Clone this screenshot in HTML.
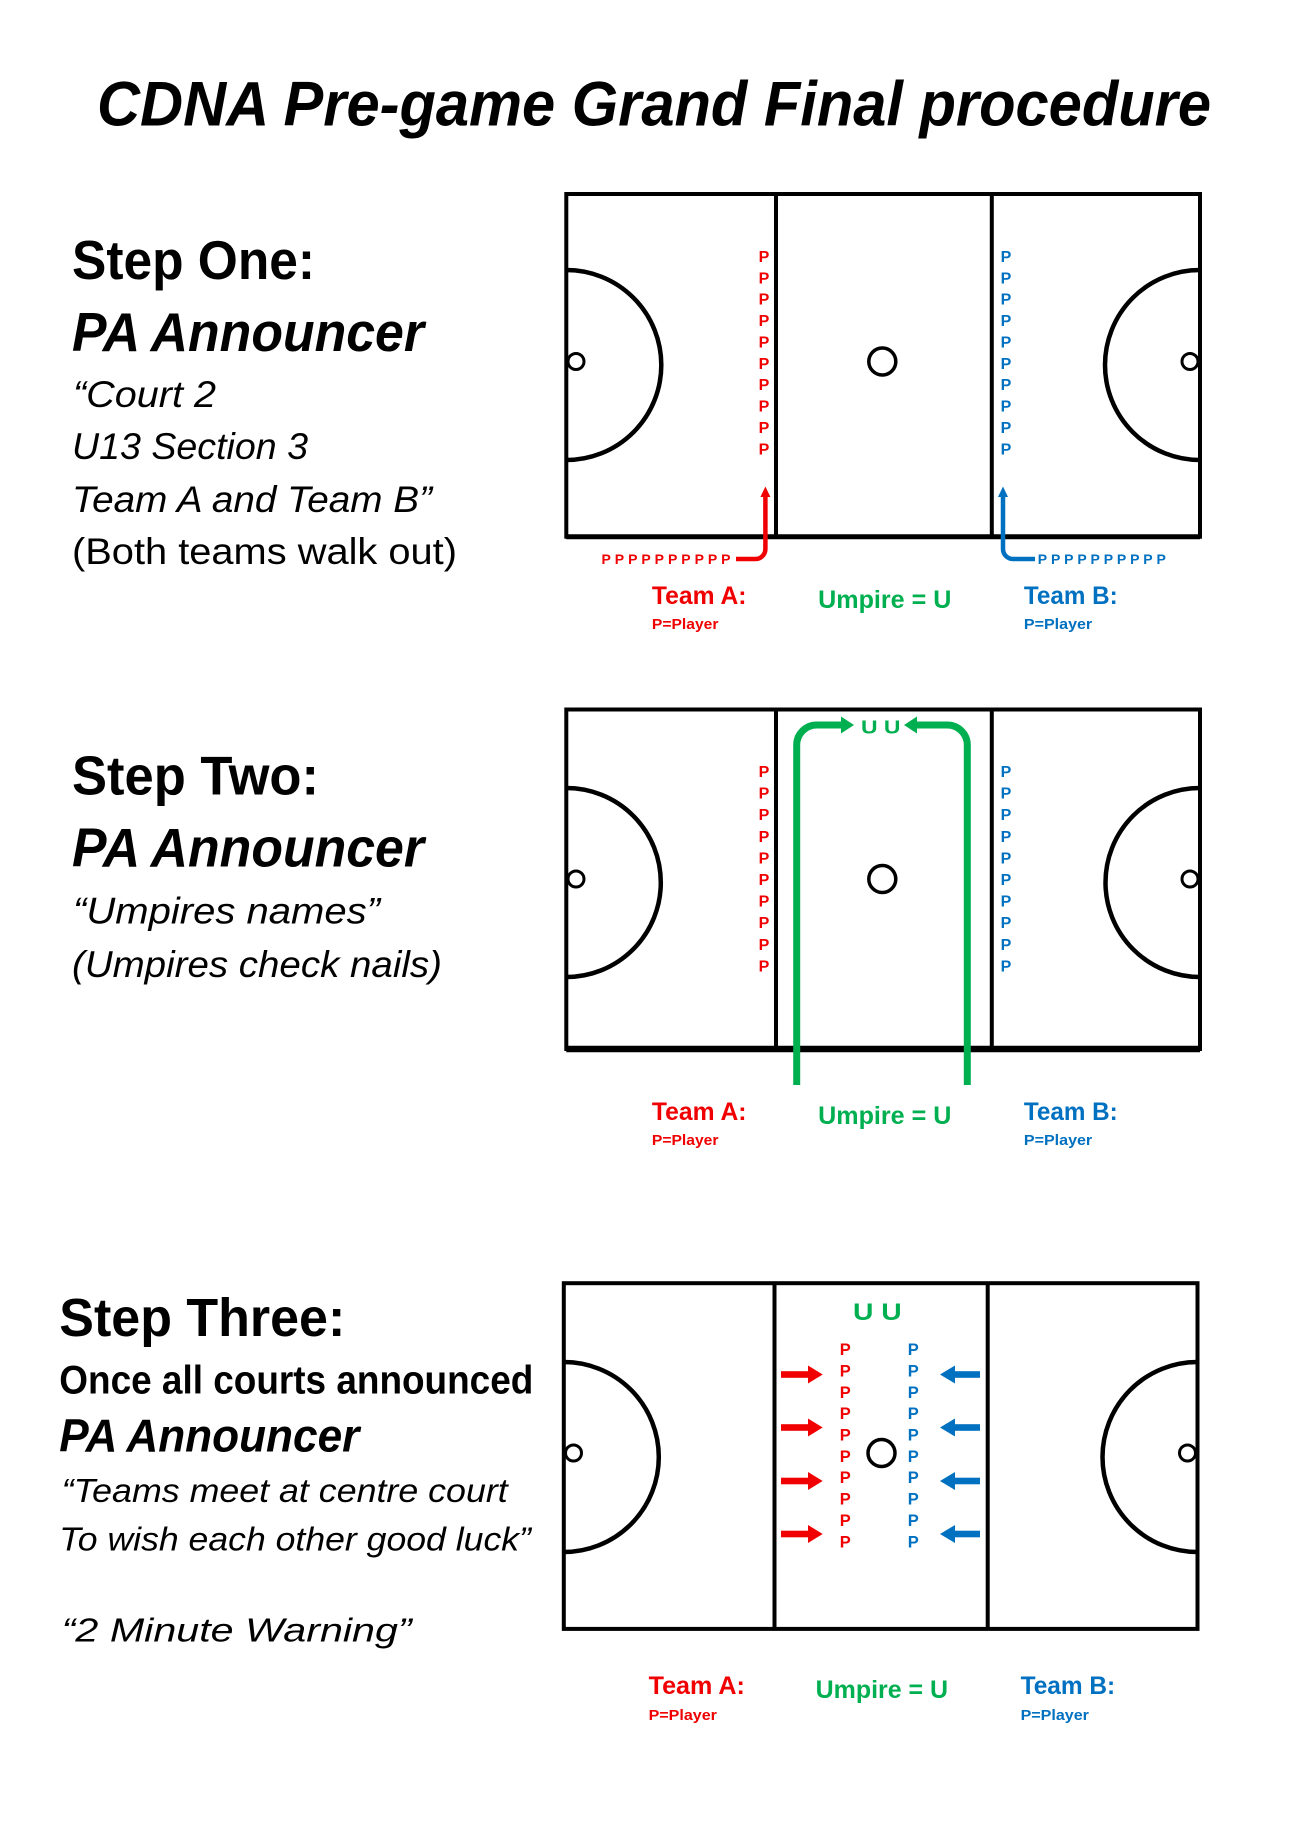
<!DOCTYPE html>
<html>
<head>
<meta charset="utf-8">
<style>
html,body{margin:0;padding:0;background:#fff;}
svg{display:block;}
text{font-family:"Liberation Sans",sans-serif;}
</style>
</head>
<body>
<svg width="1291" height="1825" viewBox="0 0 1291 1825" xmlns="http://www.w3.org/2000/svg">
<rect x="0" y="0" width="1291" height="1825" fill="#fff"/>

<!-- Title -->
<text x="97" y="125.5" font-size="63" font-weight="bold" font-style="italic" textLength="1114" lengthAdjust="spacingAndGlyphs" fill="#000">CDNA Pre-game Grand Final procedure</text>

<!-- Step One text -->
<text x="72" y="279" font-size="55" font-weight="bold" textLength="243" lengthAdjust="spacingAndGlyphs">Step One:</text>
<text x="72" y="351" font-size="55" font-weight="bold" font-style="italic" textLength="352" lengthAdjust="spacingAndGlyphs">PA Announcer</text>
<text x="73" y="407" font-size="37" font-style="italic" textLength="143" lengthAdjust="spacingAndGlyphs">“Court 2</text>
<text x="72" y="459" font-size="37" font-style="italic" textLength="236" lengthAdjust="spacingAndGlyphs">U13 Section 3</text>
<text x="72" y="512" font-size="37" font-style="italic" textLength="360" lengthAdjust="spacingAndGlyphs">Team A and Team B”</text>
<text x="72" y="564" font-size="37" textLength="385" lengthAdjust="spacingAndGlyphs">(Both teams walk out)</text>

<!-- Step Two text -->
<text x="72" y="794.7" font-size="55" font-weight="bold" textLength="247" lengthAdjust="spacingAndGlyphs">Step Two:</text>
<text x="72" y="866.5" font-size="55" font-weight="bold" font-style="italic" textLength="352" lengthAdjust="spacingAndGlyphs">PA Announcer</text>
<text x="73" y="923.4" font-size="37" font-style="italic" textLength="307" lengthAdjust="spacingAndGlyphs">“Umpires names”</text>
<text x="72" y="977.1" font-size="37" font-style="italic" textLength="370" lengthAdjust="spacingAndGlyphs">(Umpires check nails)</text>

<!-- Step Three text -->
<text x="59.3" y="1336" font-size="54" font-weight="bold" textLength="286" lengthAdjust="spacingAndGlyphs">Step Three:</text>
<text x="59.3" y="1393.7" font-size="40" font-weight="bold" textLength="474" lengthAdjust="spacingAndGlyphs">Once all courts announced</text>
<text x="59.3" y="1451.5" font-size="46" font-weight="bold" font-style="italic" textLength="300" lengthAdjust="spacingAndGlyphs">PA Announcer</text>
<text x="61.7" y="1501.8" font-size="33" font-style="italic" textLength="446" lengthAdjust="spacingAndGlyphs">“Teams meet at centre court</text>
<text x="59.3" y="1550.5" font-size="33" font-style="italic" textLength="471.6" lengthAdjust="spacingAndGlyphs">To wish each other good luck”</text>
<text x="61.7" y="1641.3" font-size="33" font-style="italic" textLength="350" lengthAdjust="spacingAndGlyphs">“2 Minute Warning”</text>

<!-- ================= COURT 1 ================= -->
<g fill="none" stroke="#000">
  <rect x="566.3" y="194" width="633.7" height="342.7" stroke-width="4"/>
  <line x1="566.3" y1="536.7" x2="1200" y2="536.7" stroke-width="5"/>
  <line x1="776" y1="194" x2="776" y2="536.7" stroke-width="4"/>
  <line x1="991.8" y1="194" x2="991.8" y2="536.7" stroke-width="4"/>
  <path d="M566.3,270 A95,95 0 0 1 566.3,460" stroke-width="4.5"/>
  <path d="M1200,270 A95,95 0 0 0 1200,460" stroke-width="4.5"/>
  <circle cx="576" cy="361.5" r="8" stroke-width="3"/>
  <circle cx="1190" cy="361.5" r="8" stroke-width="3"/>
  <circle cx="882.3" cy="361.5" r="13.5" stroke-width="3.5"/>
</g>
<g font-size="16" font-weight="bold" text-anchor="middle">
  <g fill="#f00000">
    <text x="764" y="262">P</text><text x="764" y="283.4">P</text><text x="764" y="304.7">P</text><text x="764" y="326.1">P</text><text x="764" y="347.5">P</text>
    <text x="764" y="368.9">P</text><text x="764" y="390.2">P</text><text x="764" y="411.6">P</text><text x="764" y="433">P</text><text x="764" y="454.3">P</text>
  </g>
  <g fill="#0070c0">
    <text x="1006" y="262">P</text><text x="1006" y="283.4">P</text><text x="1006" y="304.7">P</text><text x="1006" y="326.1">P</text><text x="1006" y="347.5">P</text>
    <text x="1006" y="368.9">P</text><text x="1006" y="390.2">P</text><text x="1006" y="411.6">P</text><text x="1006" y="433">P</text><text x="1006" y="454.3">P</text>
  </g>
</g>
<!-- step 1 walk-out arrows -->
<path d="M765.4,495 L765.4,549 A10,10 0 0 1 755.4,559 L736,559" fill="none" stroke="#f00000" stroke-width="4.5"/>
<polygon points="765.4,486.5 760.4,497 770.4,497" fill="#f00000"/>
<path d="M1003,495 L1003,549 A10,10 0 0 0 1013,559 L1035,559" fill="none" stroke="#0070c0" stroke-width="4.5"/>
<polygon points="1003,486.5 998,497 1008,497" fill="#0070c0"/>
<text x="601.5" y="564" font-size="14" font-weight="bold" fill="#f00000" textLength="129" lengthAdjust="spacing">PPPPPPPPPP</text>
<text x="1037.8" y="564" font-size="14" font-weight="bold" fill="#0070c0" textLength="128" lengthAdjust="spacing">PPPPPPPPPP</text>
<!-- labels 1 -->
<text x="651.9" y="604" font-size="25" font-weight="bold" fill="#f00000" textLength="94.6" lengthAdjust="spacingAndGlyphs">Team A:</text>
<text x="651.9" y="629" font-size="14.5" font-weight="bold" fill="#f00000" textLength="66.6" lengthAdjust="spacingAndGlyphs">P=Player</text>
<text x="818.1" y="608" font-size="25" font-weight="bold" fill="#00b050" textLength="133.3" lengthAdjust="spacingAndGlyphs">Umpire = U</text>
<text x="1023.9" y="604" font-size="25" font-weight="bold" fill="#0070c0" textLength="93.8" lengthAdjust="spacingAndGlyphs">Team B:</text>
<text x="1023.9" y="629" font-size="14.5" font-weight="bold" fill="#0070c0" textLength="68.3" lengthAdjust="spacingAndGlyphs">P=Player</text>

<!-- ================= COURT 2 ================= -->
<g fill="none" stroke="#000">
  <rect x="566.3" y="709.5" width="633.7" height="339.5" stroke-width="4"/>
  <line x1="566.3" y1="1049" x2="1200" y2="1049" stroke-width="6.5"/>
  <line x1="776" y1="709.5" x2="776" y2="1049" stroke-width="4"/>
  <line x1="991.8" y1="709.5" x2="991.8" y2="1049" stroke-width="4"/>
  <path d="M566.3,788 A94.5,94.5 0 0 1 566.3,977" stroke-width="4.5"/>
  <path d="M1200,788 A94.5,94.5 0 0 0 1200,977" stroke-width="4.5"/>
  <circle cx="576" cy="879" r="8" stroke-width="3"/>
  <circle cx="1190" cy="879" r="8" stroke-width="3"/>
  <circle cx="882.3" cy="879" r="13.5" stroke-width="3.5"/>
</g>
<g font-size="16" font-weight="bold" text-anchor="middle">
  <g fill="#f00000">
    <text x="764" y="777">P</text><text x="764" y="798.6">P</text><text x="764" y="820.2">P</text><text x="764" y="841.8">P</text><text x="764" y="863.4">P</text>
    <text x="764" y="885">P</text><text x="764" y="906.6">P</text><text x="764" y="928.2">P</text><text x="764" y="949.8">P</text><text x="764" y="971.4">P</text>
  </g>
  <g fill="#0070c0">
    <text x="1006" y="777">P</text><text x="1006" y="798.6">P</text><text x="1006" y="820.2">P</text><text x="1006" y="841.8">P</text><text x="1006" y="863.4">P</text>
    <text x="1006" y="885">P</text><text x="1006" y="906.6">P</text><text x="1006" y="928.2">P</text><text x="1006" y="949.8">P</text><text x="1006" y="971.4">P</text>
  </g>
</g>
<!-- umpire arrows -->
<path d="M796.7,1085 L796.7,745 A20,20 0 0 1 816.7,725 L843,725" fill="none" stroke="#00b050" stroke-width="7"/>
<polygon points="841,716.5 854,725 841,733.5" fill="#00b050"/>
<path d="M967.3,1085 L967.3,745 A20,20 0 0 0 947.3,725 L915,725" fill="none" stroke="#00b050" stroke-width="7"/>
<polygon points="917,716.5 904,725 917,733.5" fill="#00b050"/>
<text x="861" y="733.5" font-size="18" font-weight="bold" fill="#00b050" textLength="39.5" lengthAdjust="spacingAndGlyphs">U U</text>
<!-- labels 2 -->
<text x="651.9" y="1120" font-size="25" font-weight="bold" fill="#f00000" textLength="94.6" lengthAdjust="spacingAndGlyphs">Team A:</text>
<text x="651.9" y="1145" font-size="14.5" font-weight="bold" fill="#f00000" textLength="66.6" lengthAdjust="spacingAndGlyphs">P=Player</text>
<text x="818.1" y="1124" font-size="25" font-weight="bold" fill="#00b050" textLength="133.3" lengthAdjust="spacingAndGlyphs">Umpire = U</text>
<text x="1023.9" y="1120" font-size="25" font-weight="bold" fill="#0070c0" textLength="93.8" lengthAdjust="spacingAndGlyphs">Team B:</text>
<text x="1023.9" y="1145" font-size="14.5" font-weight="bold" fill="#0070c0" textLength="68.3" lengthAdjust="spacingAndGlyphs">P=Player</text>

<!-- ================= COURT 3 ================= -->
<g fill="none" stroke="#000">
  <rect x="563.8" y="1283.2" width="633.7" height="345.7" stroke-width="4"/>
  <line x1="774.5" y1="1283.2" x2="774.5" y2="1628.9" stroke-width="4"/>
  <line x1="987.7" y1="1283.2" x2="987.7" y2="1628.9" stroke-width="4"/>
  <path d="M563.8,1362 A95,95 0 0 1 563.8,1552" stroke-width="4.5"/>
  <path d="M1197.5,1362 A95,95 0 0 0 1197.5,1552" stroke-width="4.5"/>
  <circle cx="573.5" cy="1453" r="8" stroke-width="3"/>
  <circle cx="1187.5" cy="1453" r="8" stroke-width="3"/>
  <circle cx="881.5" cy="1453" r="13.5" stroke-width="3.5"/>
</g>
<text x="853" y="1320" font-size="24" font-weight="bold" fill="#00b050" textLength="48.7" lengthAdjust="spacingAndGlyphs">U U</text>
<g font-size="16.5" font-weight="bold" text-anchor="middle">
  <g fill="#f00000">
    <text x="845.2" y="1355">P</text><text x="845.2" y="1376.4">P</text><text x="845.2" y="1397.8">P</text><text x="845.2" y="1419.1">P</text><text x="845.2" y="1440.5">P</text>
    <text x="845.2" y="1461.9">P</text><text x="845.2" y="1483.2">P</text><text x="845.2" y="1504.6">P</text><text x="845.2" y="1526">P</text><text x="845.2" y="1547.3">P</text>
  </g>
  <g fill="#0070c0">
    <text x="913.3" y="1355">P</text><text x="913.3" y="1376.4">P</text><text x="913.3" y="1397.8">P</text><text x="913.3" y="1419.1">P</text><text x="913.3" y="1440.5">P</text>
    <text x="913.3" y="1461.9">P</text><text x="913.3" y="1483.2">P</text><text x="913.3" y="1504.6">P</text><text x="913.3" y="1526">P</text><text x="913.3" y="1547.3">P</text>
  </g>
</g>
<!-- step 3 arrows -->
<g fill="#f00000">
  <rect x="781" y="1371.2" width="28" height="6.6"/><polygon points="808,1365.5 822.7,1374.5 808,1383.5"/>
  <rect x="781" y="1424.2" width="28" height="6.6"/><polygon points="808,1418.5 822.7,1427.5 808,1436.5"/>
  <rect x="781" y="1477.7" width="28" height="6.6"/><polygon points="808,1472 822.7,1481 808,1490"/>
  <rect x="781" y="1530.7" width="28" height="6.6"/><polygon points="808,1525 822.7,1534 808,1543"/>
</g>
<g fill="#0070c0">
  <rect x="954" y="1371.2" width="26" height="6.6"/><polygon points="955,1365.5 940,1374.5 955,1383.5"/>
  <rect x="954" y="1424.2" width="26" height="6.6"/><polygon points="955,1418.5 940,1427.5 955,1436.5"/>
  <rect x="954" y="1477.7" width="26" height="6.6"/><polygon points="955,1472 940,1481 955,1490"/>
  <rect x="954" y="1530.7" width="26" height="6.6"/><polygon points="955,1525 940,1534 955,1543"/>
</g>
<!-- labels 3 -->
<text x="648.6" y="1694" font-size="25" font-weight="bold" fill="#f00000" textLength="96.3" lengthAdjust="spacingAndGlyphs">Team A:</text>
<text x="648.6" y="1720" font-size="14.5" font-weight="bold" fill="#f00000" textLength="68.3" lengthAdjust="spacingAndGlyphs">P=Player</text>
<text x="815.6" y="1698" font-size="25" font-weight="bold" fill="#00b050" textLength="132.5" lengthAdjust="spacingAndGlyphs">Umpire = U</text>
<text x="1020.6" y="1694" font-size="25" font-weight="bold" fill="#0070c0" textLength="94.6" lengthAdjust="spacingAndGlyphs">Team B:</text>
<text x="1020.6" y="1720" font-size="14.5" font-weight="bold" fill="#0070c0" textLength="68.3" lengthAdjust="spacingAndGlyphs">P=Player</text>
</svg>
</body>
</html>
